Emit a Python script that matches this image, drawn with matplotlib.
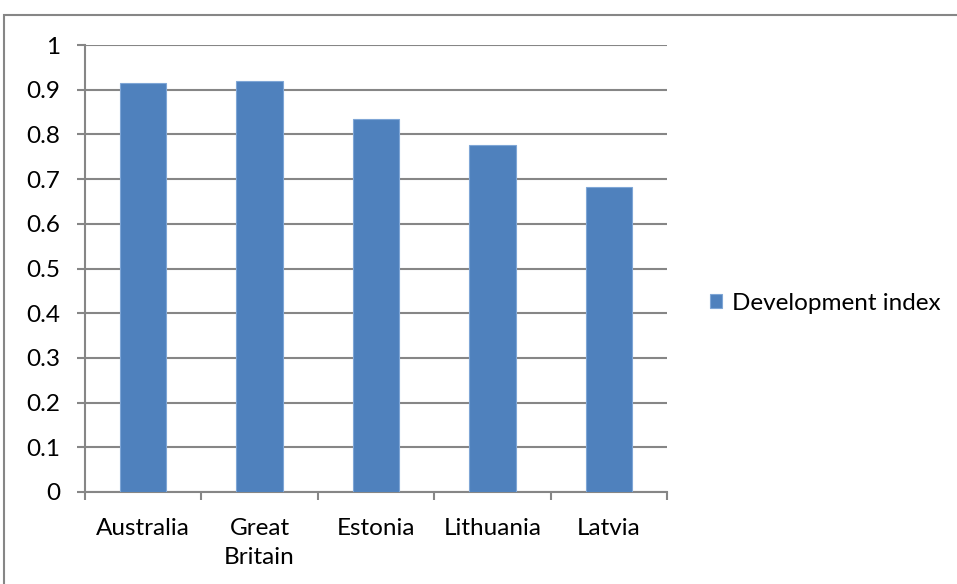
import matplotlib
matplotlib.use("Agg")
import matplotlib.pyplot as plt
from matplotlib.patches import Rectangle
import numpy as np

categories = ["Australia", "Great\nBritain", "Estonia", "Lithuania", "Latvia"]
values = [0.916, 0.920, 0.834, 0.776, 0.682]
yticks = [0, 0.1, 0.2, 0.3, 0.4, 0.5, 0.6, 0.7, 0.8, 0.9, 1]
ytick_labels = ["0", "0.1", "0.2", "0.3", "0.4", "0.5", "0.6", "0.7", "0.8", "0.9", "1"]
series_name = "Development index"

plt.rcParams['font.family'] = ['Lato', 'DejaVu Sans']
FS = 17.5

W, H = 957, 584
fig = plt.figure(figsize=(W/100, H/100), dpi=100)
ax = fig.add_axes([85/W, 92/H, 582/W, 447/H])

x = np.arange(len(categories))
bars = ax.bar(x, values, width=0.4, color="#4F81BD", edgecolor="#7FA6D6", linewidth=0.8,
              label=series_name, zorder=3)

ax.set_xlim(-0.5, len(categories) - 0.5)
ax.set_ylim(0, 1)
ax.set_yticks(yticks)
ax.set_yticklabels(ytick_labels, fontsize=FS)
ax.yaxis.grid(True, color="#868686", linewidth=1.5, zorder=0)
ax.set_axisbelow(True)

for s in ["top", "right"]:
    ax.spines[s].set_visible(False)
for s in ["left", "bottom"]:
    ax.spines[s].set_color("#868686")
    ax.spines[s].set_linewidth(1.5)

ax.tick_params(axis="y", direction="out", length=6, width=1.5, color="#868686", pad=12, labelsize=FS)
ax.set_xticks(np.arange(-0.5, len(categories), 1.0))
ax.set_xticklabels([])
ax.tick_params(axis="x", direction="out", length=6, width=1.5, color="#868686")
ax.set_xticks(x, minor=True)
ax.set_xticklabels(categories, minor=True, fontsize=FS, linespacing=1.5)
ax.tick_params(axis="x", which="minor", length=0, pad=18.5)

leg = fig.legend(handles=[bars], labels=[series_name], loc="center left",
                 bbox_to_anchor=(688/W, 1 - 303/H), frameon=False, fontsize=FS,
                 handlelength=0.5, handleheight=0.5, handletextpad=0.4)

fig.patches.append(Rectangle((4/W, -0.1), 1.2, 1 - 15/H + 0.1, transform=fig.transFigure,
                             fill=False, edgecolor="#868686", linewidth=1.5, zorder=10))

fig.savefig("out.png", dpi=100)
